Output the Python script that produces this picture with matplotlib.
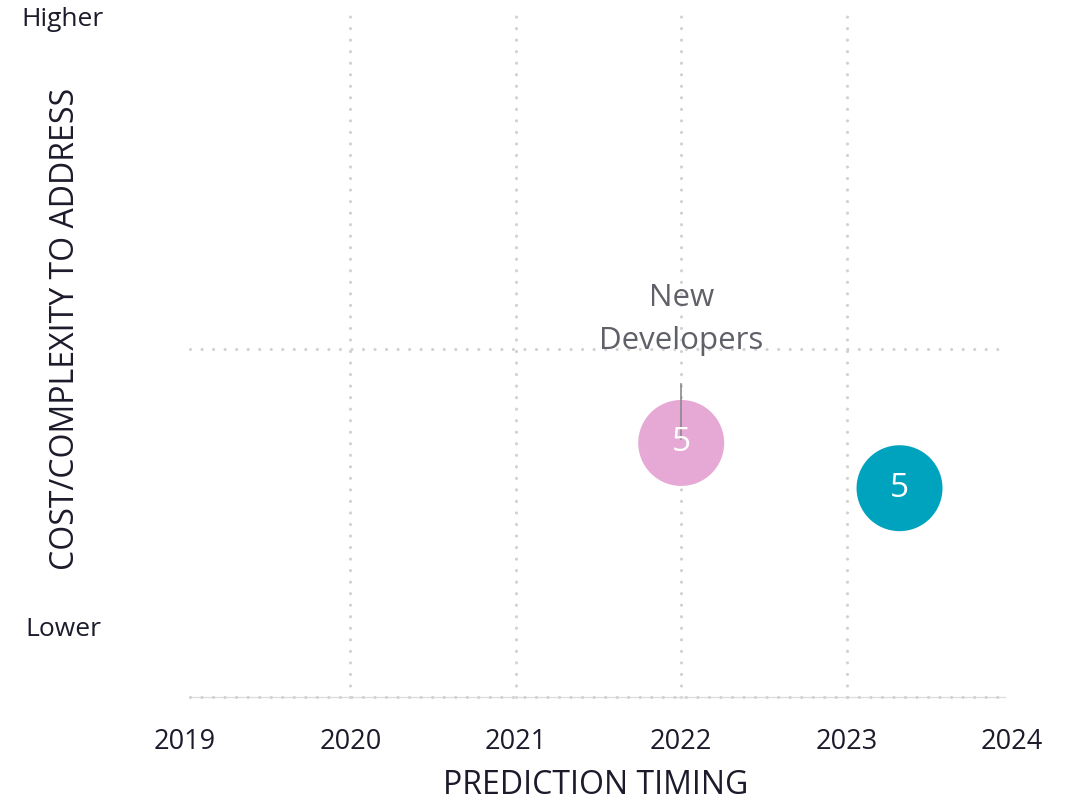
import matplotlib.pyplot as plt

plt.rcParams['font.family'] = ['Open Sans', 'DejaVu Sans']

# Data
years = [2019, 2020, 2021, 2022, 2023, 2024]
bubble_names = ['New Developers', '']
bubble_x = [2022.0, 2023.32]
bubble_y = [0.73, 0.60]
bubble_counts = [5, 5]
bubble_colors = ['#e6a8d4', '#00a3be']

fig = plt.figure(figsize=(10.79, 8), dpi=100)
W, H = 1079, 800
# axes spans 2019 -> 2024 in x (px 185 -> 1012), y 0 at px 697, 1 at px 349
ax = fig.add_axes([185 / W, 1 - 697 / H, (1012 - 185) / W, (697 - 10) / H])
ax.set_xlim(2019, 2024)
ax.set_ylim(0, (697 - 10) / 348)
for s in ax.spines.values():
    s.set_visible(False)
ax.set_yticks([])
ax.set_xticks(years)
ax.tick_params(axis='x', length=0, pad=22, labelsize=19.5, labelcolor='#1b1b2b')

dot_kw = dict(color='#d2d2d2', linewidth=2.3, linestyle=(0, (0.01, 3.6)),
              dash_capstyle='round', zorder=1, clip_on=False)
x_lo, x_hi = 2019.03, 2023.96
for yr in years[1:-1]:
    ax.plot([yr, yr], [0, ax.get_ylim()[1]], **dot_kw)
ax.plot([x_lo, x_hi], [1, 1], **dot_kw)
ax.plot([x_lo, x_hi], [0, 0], color='#dcdcdc', linewidth=0.9, zorder=1, clip_on=False)
ax.plot([x_lo, x_hi], [0, 0], **dot_kw)

ax.scatter(bubble_x, bubble_y, s=3830, c=bubble_colors, linewidths=0, zorder=3)
for x, y, n in zip(bubble_x, bubble_y, bubble_counts):
    ax.text(x, y, str(n), ha='center', va='center', color='white',
            fontsize=24, zorder=5)

# label with leader line
ax.plot([bubble_x[0], bubble_x[0]], [0.898, 0.74], color='#8a8a8a',
        linewidth=1.2, zorder=4)
ax.text(bubble_x[0], 1.085, 'New\nDevelopers', ha='center', va='center',
        color='#5f6068', fontsize=22.5, linespacing=1.6, zorder=4)

fig.text(63 / W, 1 - 20 / H, 'Higher', ha='center', va='center',
         fontsize=19, color='#1b1b2b')
fig.text(63 / W, 1 - 630 / H, 'Lower', ha='center', va='center',
         fontsize=19, color='#1b1b2b')
fig.text(66 / W, 1 - 329 / H, 'COST/COMPLEXITY TO ADDRESS', ha='center',
         va='center', rotation=90, fontsize=23, color='#1b1b2b')
fig.text(596 / W, 1 - 785 / H, 'PREDICTION TIMING', ha='center', va='center',
         fontsize=23, color='#1b1b2b')

fig.savefig('out.png', dpi=100)
